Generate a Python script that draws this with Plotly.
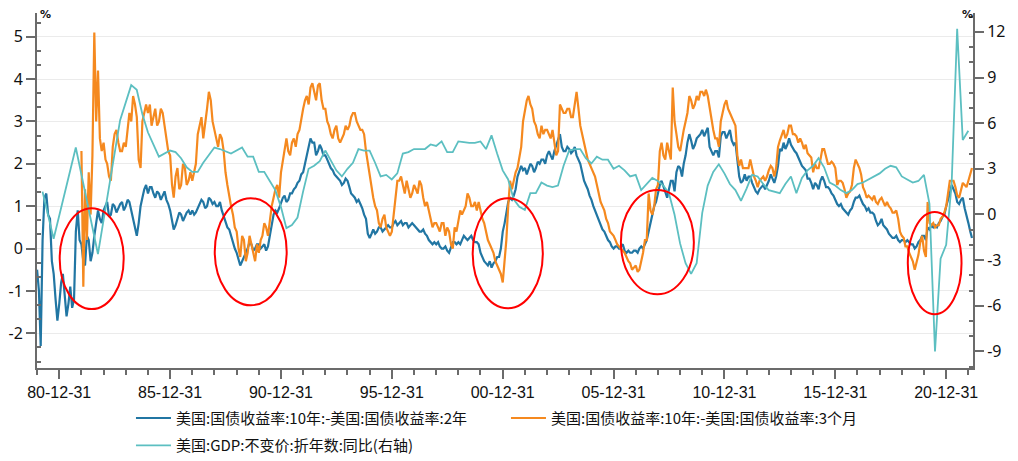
import plotly.graph_objects as go
import pandas as pd

# ---------------- data ----------------
# 10Y-2Y spread, monthly 1980-01 .. 2022-03, stored as odd months (Jan,Mar,...) and even months (Feb,Apr,...)
blue_start, blue_end = "1980-01-01", "2022-03-01"
blue_odd = [
    -0.5, -2.3, 1.2, 0.8, -0.3, -1.2,      # 1980
    -1.3, -0.6, -1.6, -0.9, -1.2, 0.9,     # 1981
    0.1, -0.4, 0.2, -0.1, 0.6, 0.7,        # 1982
    0.9, 1.1, 0.8, 1.0, 0.95, 1.1,         # 1983
    1.0, 1.1, 0.7, 0.3, 1.0, 1.4,          # 1984
    1.3, 1.45, 1.2, 1.3, 1.25, 1.15,       # 1985
    0.9, 0.45, 0.7, 0.8, 0.75, 0.9,        # 1986
    0.9, 0.85, 1.05, 1.1, 1.0, 1.15,       # 1987
    1.1, 1.0, 0.9, 0.6, 0.45, 0.1,         # 1988
    -0.1, -0.4, -0.2, 0.0, 0.1, 0.0,       # 1989
    0.1, 0.05, -0.05, 0.3, 0.8, 0.85,      # 1990
    1.1, 1.25, 1.15, 1.3, 1.45, 1.6,       # 1991
    1.8, 2.2, 2.6, 2.5, 2.3, 2.35,         # 1992
    2.2, 2.0, 1.85, 1.7, 1.6, 1.55,        # 1993
    1.6, 1.3, 1.2, 1.15, 0.95, 0.7,        # 1994
    0.25, 0.45, 0.4, 0.5, 0.45, 0.55,      # 1995
    0.5, 0.65, 0.6, 0.55, 0.6, 0.55,       # 1996
    0.55, 0.45, 0.4, 0.35, 0.2, 0.1,       # 1997
    0.1, 0.05, 0.0, -0.05, 0.05, 0.15,     # 1998
    0.15, 0.2, 0.25, 0.25, 0.2, 0.15,      # 1999
    -0.1, -0.3, -0.4, -0.45, -0.3, -0.2,   # 2000
    0.4, 0.8, 1.2, 1.25, 1.7, 1.95,        # 2001
    1.9, 1.85, 1.95, 1.9, 2.0, 2.1,        # 2002
    2.2, 2.2, 2.3, 2.6, 2.4, 2.3,          # 2003
    2.35, 2.3, 2.2, 2.0, 1.6, 1.4,         # 2004
    1.15, 0.9, 0.7, 0.45, 0.3, 0.15,       # 2005
    0.0, 0.05, 0.05, -0.05, -0.05, -0.1,   # 2006
    -0.05, 0.0, 0.0, 0.2, 0.6, 1.0,        # 2007
    1.35, 1.6, 1.3, 1.4, 1.6, 1.8,         # 2008
    1.9, 2.0, 2.5, 2.55, 2.45, 2.65,       # 2009
    2.8, 2.75, 2.4, 2.2, 2.3, 2.65,        # 2010
    2.75, 2.7, 2.55, 2.5, 1.7, 1.6,        # 2011
    1.6, 1.7, 1.45, 1.3, 1.45, 1.4,        # 2012
    1.6, 1.65, 1.7, 2.35, 2.5, 2.45,       # 2013
    2.45, 2.3, 2.15, 1.95, 1.85, 1.65,     # 2014
    1.4, 1.5, 1.6, 1.6, 1.45, 1.3,         # 2015
    1.15, 1.0, 0.95, 0.85, 0.9, 1.1,       # 2016
    1.2, 1.15, 1.0, 0.95, 0.85, 0.65,      # 2017
    0.6, 0.55, 0.45, 0.3, 0.25, 0.2,       # 2018
    0.2, 0.15, 0.15, 0.1, 0.05, 0.2,       # 2019
    0.3, 0.5, 0.55, 0.55, 0.6, 0.75,       # 2020
    1.0, 1.3, 1.4, 1.1, 1.15, 0.95,        # 2021
    0.6, 0.25,                             # 2022 Jan, Mar
]
blue_even = [
    -1.0, 0.2, 1.3, 0.7, -0.6, -1.7,       # 1980
    -0.8, -1.2, -1.3, -1.4, 0.4, 0.2,      # 1981
    -0.3, 0.3, -0.3, 0.3, 0.9, 0.6,        # 1982
    1.0, 0.75, 1.05, 0.85, 1.05, 0.9,      # 1983
    1.15, 0.9, 0.45, 0.6, 1.2, 1.5,        # 1984
    1.45, 1.3, 1.35, 1.15, 1.35, 1.05,     # 1985
    0.7, 0.55, 0.85, 0.65, 0.85, 0.8,      # 1986
    0.8, 0.95, 1.15, 0.95, 1.2, 1.05,      # 1987
    1.0, 1.1, 0.75, 0.5, 0.3, 0.0,         # 1988
    -0.3, -0.3, -0.1, 0.15, -0.05, 0.1,    # 1989
    0.0, 0.1, 0.05, 0.55, 0.9, 0.95,       # 1990
    1.2, 1.1, 1.3, 1.4, 1.55, 1.75,        # 1991
    2.0, 2.45, 2.5, 2.2, 2.45, 2.2,        # 1992
    2.1, 1.9, 1.75, 1.65, 1.5, 1.65,       # 1993
    1.45, 1.25, 1.1, 1.05, 0.8, 0.35,      # 1994
    0.35, 0.35, 0.5, 0.4, 0.5, 0.5,        # 1995
    0.6, 0.55, 0.65, 0.6, 0.5, 0.6,        # 1996
    0.5, 0.4, 0.45, 0.3, 0.15, 0.15,       # 1997
    0.15, 0.0, 0.05, -0.1, 0.15, 0.1,      # 1998
    0.1, 0.3, 0.2, 0.3, 0.15, 0.1,         # 1999
    -0.2, -0.35, -0.3, -0.35, -0.2, 0.0,   # 2000
    0.6, 1.1, 1.15, 1.4, 1.85, 1.85,       # 2001
    1.75, 2.0, 1.8, 2.05, 2.1, 2.0,        # 2002
    2.3, 2.1, 2.45, 2.7, 2.3, 2.4,         # 2003
    2.25, 2.4, 2.1, 1.8, 1.5, 1.25,        # 2004
    1.0, 0.8, 0.55, 0.4, 0.2, 0.05,        # 2005
    0.05, 0.0, 0.1, -0.1, -0.1, -0.05,     # 2006
    -0.1, 0.05, 0.1, 0.4, 0.8, 1.1,        # 2007
    1.5, 1.45, 1.2, 1.6, 1.35, 1.95,       # 2008
    1.7, 2.2, 2.7, 2.35, 2.6, 2.7,         # 2009
    2.65, 2.85, 2.3, 2.3, 2.15, 2.75,      # 2010
    2.6, 2.8, 2.45, 2.15, 1.55, 1.75,      # 2011
    1.7, 1.55, 1.35, 1.4, 1.5, 1.5,        # 2012
    1.75, 1.55, 1.95, 2.3, 2.35, 2.6,      # 2013
    2.35, 2.25, 2.05, 1.9, 1.65, 1.55,     # 2014
    1.55, 1.4, 1.7, 1.45, 1.4, 1.25,       # 2015
    1.05, 1.05, 0.9, 0.8, 0.95, 1.2,       # 2016
    1.25, 1.05, 0.9, 0.85, 0.8, 0.55,      # 2017
    0.7, 0.5, 0.35, 0.25, 0.3, 0.15,       # 2018
    0.2, 0.2, 0.1, 0.0, 0.15, 0.3,         # 2019
    0.2, 0.45, 0.5, 0.5, 0.65, 0.8,        # 2020
    1.15, 1.5, 1.3, 1.05, 1.2, 0.8,        # 2021
    0.4,                                   # 2022 Feb
]

# 10Y-3M spread, monthly 1982-01 .. 2022-03 (odd / even months)
orange_start, orange_end = "1982-01-01", "2022-03-01"
orange_odd = [
    2.3, 1.4, 1.8, 2.2, 3.0, 2.6,          # 1982
    2.5, 2.0, 1.6, 2.7, 2.5, 2.3,          # 1983
    2.4, 3.2, 3.6, 3.1, 1.9, 3.2,          # 1984
    3.2, 2.9, 3.3, 3.0, 3.2, 2.6,          # 1985
    2.2, 1.2, 1.9, 1.5, 1.9, 1.6,          # 1986
    1.6, 2.0, 2.9, 2.6, 3.3, 3.5,          # 1987
    2.8, 2.4, 2.6, 1.8, 1.2, 0.8,          # 1988
    0.4, -0.2, 0.2, -0.1, 0.1, -0.3,       # 1989
    -0.1, 0.3, 0.5, 0.7, 1.2, 1.5,         # 1990
    1.8, 2.4, 2.3, 2.5, 2.4, 2.8,          # 1991
    3.3, 3.6, 3.8, 3.7, 3.85, 3.5,         # 1992
    3.3, 2.9, 2.6, 2.9, 2.5, 2.7,          # 1993
    2.8, 3.1, 3.2, 2.9, 2.8, 2.3,          # 1994
    1.7, 1.2, 0.9, 0.5, 0.8, 0.4,          # 1995
    0.4, 1.2, 1.6, 1.5, 1.6, 1.2,          # 1996
    1.5, 1.3, 1.5, 1.0, 0.9, 0.5,          # 1997
    0.6, 0.4, 0.6, 0.5, 0.1, 0.5,          # 1998
    0.7, 0.8, 1.0, 1.2, 1.0, 0.9,          # 1999
    0.9, 0.6, 0.2, 0.0, -0.3, -0.5,        # 2000
    -0.8, 0.2, 1.6, 1.6, 1.9, 2.4,         # 2001
    3.3, 3.6, 3.3, 2.9, 2.6, 2.7,          # 2002
    2.8, 2.6, 2.5, 2.3, 3.3, 3.2,          # 2003
    3.3, 3.1, 3.7, 2.9, 2.5, 2.1,          # 2004
    1.9, 1.7, 1.3, 1.0, 0.7, 0.4,          # 2005
    0.3, 0.1, 0.0, -0.1, -0.3, -0.5,       # 2006
    -0.4, -0.5, -0.1, 0.2, 0.9, 1.0,       # 2007
    1.5, 2.5, 2.1, 2.3, 3.8, 2.7,          # 2008
    2.3, 2.8, 3.2, 3.5, 3.4, 3.5,          # 2009
    3.7, 3.75, 3.3, 2.8, 2.6, 3.0,         # 2010
    3.4, 3.3, 3.1, 2.9, 1.95, 1.9,         # 2011
    1.9, 2.1, 1.7, 1.45, 1.65, 1.6,        # 2012
    1.85, 1.9, 1.9, 2.55, 2.8, 2.7,        # 2013
    2.9, 2.7, 2.5, 2.5, 2.45, 2.2,         # 2014
    1.8, 1.9, 2.1, 2.35, 2.0, 2.05,        # 2015
    1.9, 1.6, 1.55, 1.2, 1.35, 1.9,        # 2016
    2.0, 1.75, 1.35, 1.25, 1.15, 1.1,      # 2017
    1.15, 1.1, 1.1, 0.95, 0.85, 0.7,       # 2018
    0.3, 0.05, -0.1, -0.3, -0.35, 0.15,    # 2019
    -0.05, 1.1, 0.55, 0.5, 0.55, 0.75,     # 2020
    1.0, 1.6, 1.6, 1.25, 1.4, 1.5,         # 2021
    1.6, 1.9,                              # 2022 Jan, Mar
]
orange_even = [
    -0.9, 0.2, 0.8, 5.1, 4.2, 2.3,         # 1982
    2.1, 1.7, 2.4, 2.8, 2.3, 2.5,          # 1983
    2.8, 3.0, 3.4, 2.1, 3.0, 3.4,          # 1984
    3.4, 3.1, 2.9, 3.3, 2.9, 2.3,          # 1985
    1.5, 1.7, 1.4, 2.0, 1.5, 1.8,          # 1986
    1.8, 2.7, 3.1, 2.9, 3.7, 3.0,          # 1987
    2.6, 2.7, 2.3, 1.5, 1.0, 0.5,          # 1988
    0.0, 0.3, -0.3, 0.3, -0.1, 0.1,        # 1989
    0.2, 0.6, 0.3, 1.0, 1.4, 1.2,          # 1990
    2.1, 2.6, 2.2, 2.6, 2.7, 3.1,          # 1991
    3.5, 3.4, 3.9, 3.5, 3.9, 3.3,          # 1992
    3.0, 2.7, 2.8, 2.6, 2.6, 2.9,          # 1993
    2.9, 3.2, 3.0, 2.8, 2.7, 2.0,          # 1994
    1.4, 1.0, 0.6, 0.7, 0.5, 0.3,          # 1995
    0.8, 1.6, 1.7, 1.3, 1.4, 1.3,          # 1996
    1.4, 1.6, 1.2, 1.1, 0.7, 0.6,          # 1997
    0.5, 0.6, 0.3, 0.4, 0.0, 0.4,          # 1998
    0.9, 0.9, 1.3, 1.0, 1.1, 1.1,          # 1999
    0.7, 0.4, 0.1, -0.1, -0.4, -0.6,       # 2000
    -0.3, 1.0, 1.4, 1.8, 2.2, 3.0,         # 2001
    3.5, 3.4, 3.0, 2.7, 2.9, 2.8,          # 2002
    2.7, 2.8, 2.2, 3.4, 3.2, 3.3,          # 2003
    3.1, 3.4, 3.3, 2.7, 2.3, 2.0,          # 2004
    1.8, 1.5, 1.1, 0.9, 0.6, 0.35,         # 2005
    0.2, 0.05, -0.05, -0.2, -0.35, -0.45,  # 2006
    -0.55, -0.3, 0.2, 1.3, 0.8, 1.4,       # 2007
    2.3, 2.2, 2.5, 2.1, 3.0, 2.4,          # 2008
    2.6, 3.0, 3.6, 3.3, 3.6, 3.7,          # 2009
    3.6, 3.6, 3.1, 2.6, 2.4, 3.2,          # 2010
    3.5, 3.2, 3.0, 2.2, 2.1, 1.9,          # 2011
    1.9, 1.9, 1.6, 1.6, 1.7, 1.7,          # 2012
    1.95, 1.7, 2.4, 2.7, 2.6, 2.9,         # 2013
    2.7, 2.65, 2.6, 2.35, 2.25, 2.15,      # 2014
    2.0, 1.9, 2.35, 2.2, 2.0, 2.0,         # 2015
    1.5, 1.6, 1.4, 1.3, 1.5, 2.1,          # 2016
    1.9, 1.45, 1.2, 1.2, 1.25, 1.05,       # 2017
    1.2, 1.0, 1.0, 0.85, 0.9, 0.4,         # 2018
    0.25, 0.05, -0.2, -0.5, -0.15, 0.3,    # 2019
    -0.2, 0.6, 0.6, 0.55, 0.7, 0.85,       # 2020
    1.3, 1.6, 1.45, 1.2, 1.55, 1.45,       # 2021
    1.8,                                   # 2022 Feb
]

# US real GDP y/y (right axis), quarter ends
gdp_dates = [
    "1980-03-31", "1980-09-30", "1981-09-30", "1982-09-30", "1983-03-31", "1983-09-30",
    "1984-03-31", "1984-06-30", "1984-09-30", "1984-12-31", "1985-06-30", "1985-12-31",
    "1986-03-31", "1986-06-30", "1986-09-30", "1986-12-31", "1987-03-31", "1987-06-30",
    "1987-12-31", "1988-03-31", "1988-09-30", "1988-12-31", "1989-03-31", "1989-06-30",
    "1989-09-30", "1989-12-31", "1990-03-31", "1990-06-30", "1990-09-30", "1990-12-31",
    "1991-03-31", "1991-06-30", "1991-09-30", "1991-12-31", "1992-03-31", "1992-06-30",
    "1992-09-30", "1992-12-31", "1993-03-31", "1993-06-30", "1993-09-30", "1993-12-31",
    "1994-03-31", "1994-06-30", "1994-09-30", "1994-12-31", "1995-03-31", "1995-06-30",
    "1995-09-30", "1995-12-31", "1996-03-31", "1996-06-30", "1996-09-30", "1996-12-31",
    "1997-03-31", "1997-06-30", "1997-09-30", "1997-12-31", "1998-03-31", "1998-06-30",
    "1998-09-30", "1998-12-31", "1999-03-31", "1999-06-30", "1999-09-30", "1999-12-31",
    "2000-03-31", "2000-06-30", "2000-09-30", "2000-12-31", "2001-03-31", "2001-06-30",
    "2001-09-30", "2001-12-31", "2002-03-31", "2002-06-30", "2002-09-30", "2002-12-31",
    "2003-03-31", "2003-06-30", "2003-09-30", "2003-12-31", "2004-03-31", "2004-06-30",
    "2004-09-30", "2004-12-31", "2005-03-31", "2005-06-30", "2005-09-30", "2005-12-31",
    "2006-03-31", "2006-06-30", "2006-09-30", "2006-12-31", "2007-03-31", "2007-06-30",
    "2007-09-30", "2007-12-31", "2008-03-31", "2008-06-30", "2008-09-30", "2008-12-31",
    "2009-03-31", "2009-06-30", "2009-09-30", "2009-12-31", "2010-03-31", "2010-06-30",
    "2010-09-30", "2010-12-31", "2011-03-31", "2011-06-30", "2011-09-30", "2011-12-31",
    "2012-03-31", "2012-06-30", "2012-09-30", "2012-12-31", "2013-03-31", "2013-06-30",
    "2013-09-30", "2013-12-31", "2014-03-31", "2014-06-30", "2014-09-30", "2014-12-31",
    "2015-03-31", "2015-06-30", "2015-09-30", "2015-12-31", "2016-03-31", "2016-06-30",
    "2016-09-30", "2016-12-31", "2017-03-31", "2017-06-30", "2017-09-30", "2017-12-31",
    "2018-03-31", "2018-06-30", "2018-09-30", "2018-12-31", "2019-03-31", "2019-06-30",
    "2019-09-30", "2019-12-31", "2020-03-31", "2020-06-30", "2020-09-30", "2020-12-31",
    "2021-03-31", "2021-06-30", "2021-09-30", "2021-12-31",
]
gdp_vals = [
    1.5, -1.6, 4.4, -2.6, 1.8, 6.2,
    8.5, 8.2, 6.6, 5.4, 3.8, 4.2,
    4.1, 3.7, 3.1, 2.8, 2.8, 3.4,
    4.4, 4.3, 4.0, 4.2, 4.4, 3.8,
    3.8, 2.8, 2.8, 2.2, 1.6, 0.5,
    -0.9, -0.7, -0.2, 1.5, 3.0, 3.2,
    3.5, 4.2, 3.6, 2.9, 2.5, 3.0,
    3.4, 4.3, 4.2, 4.2, 3.4, 2.5,
    2.6, 2.3, 2.7, 4.0, 4.1, 4.3,
    4.3, 4.3, 4.6, 4.5, 4.8, 4.1,
    4.1, 4.8, 4.75, 4.7, 4.7, 4.8,
    4.3, 5.2, 4.0, 2.9, 2.3, 1.0,
    0.5, 0.3, 1.4, 1.4, 2.1, 1.9,
    1.8, 1.9, 3.2, 4.2, 4.3, 4.3,
    3.7, 3.35, 3.8, 3.6, 3.6, 3.0,
    3.2, 2.9, 2.5, 2.6, 1.6, 2.0,
    2.4, 2.2, 1.9, 1.4, 0.0, -1.9,
    -3.2, -3.9, -3.2, 0.1, 1.9, 2.8,
    3.3, 2.7, 2.0, 1.6, 0.9, 1.7,
    2.6, 2.5, 2.0, 1.6, 1.5, 1.4,
    2.0, 2.5, 1.4, 2.4, 2.9, 3.2,
    3.7, 3.1, 2.1, 1.9, 1.6, 1.4,
    1.6, 2.0, 2.1, 2.3, 2.5, 2.7,
    3.0, 3.2, 3.1, 2.5, 2.3, 2.1,
    2.2, 2.6, 0.7, -9.0, -2.9, -2.0,
    2.0, 12.2, 4.9, 5.5,
]

names = [
    "美国:国债收益率:10年:-美国:国债收益率:2年",
    "美国:国债收益率:10年:-美国:国债收益率:3个月",
    "美国:GDP:不变价:折年数:同比(右轴)",
]
colors = ["#2176a3", "#f5891f", "#5cbfc1"]

# axis ticks and labels
x_tick_vals = ["1980-12-31", "1985-12-31", "1990-12-31", "1995-12-31", "2000-12-31",
               "2005-12-31", "2010-12-31", "2015-12-31", "2020-12-31"]
x_tick_text = ["80-12-31", "85-12-31", "90-12-31", "95-12-31", "00-12-31",
               "05-12-31", "10-12-31", "15-12-31", "20-12-31"]
x_minor_vals = [f"{y}-12-31" for y in range(1979, 2022)]
left_tick_vals = [-2, -1, 0, 1, 2, 3, 4, 5]
left_tick_text = ["-2", "-1", "0", "1", "2", "3", "4", "5"]
right_tick_vals = [-9, -6, -3, 0, 3, 6, 9, 12]
right_tick_text = ["-9", "-6", "-3", "0", "3", "6", "9", "12"]

# red ellipses drawn on the chart (left-axis units)
circle_x0 = ["1981-01-08", "1988-01-06", "1999-08-25", "2006-05-01", "2019-04-09"]
circle_x1 = ["1983-11-28", "1991-04-05", "2002-10-23", "2009-08-15", "2021-09-10"]
circle_y0 = [-1.43, -1.34, -1.41, -1.08, -1.55]
circle_y1 = [0.95, 1.19, 1.19, 1.38, 0.86]

# ---------------- assemble ----------------
def interleave(odd, even):
    out = []
    for i, v in enumerate(odd):
        out.append(v)
        if i < len(even):
            out.append(even[i])
    return out

blue_dates = pd.date_range(blue_start, blue_end, freq="MS")
orange_dates = pd.date_range(orange_start, orange_end, freq="MS")
blue_vals = interleave(blue_odd, blue_even)
orange_vals = interleave(orange_odd, orange_even)
assert len(blue_vals) == len(blue_dates), (len(blue_vals), len(blue_dates))
assert len(orange_vals) == len(orange_dates), (len(orange_vals), len(orange_dates))
assert len(gdp_vals) == len(gdp_dates)

fig = go.Figure()
fig.add_trace(go.Scatter(x=blue_dates, y=blue_vals, mode="lines", name=names[0],
                         line=dict(color=colors[0], width=2.2), legend="legend"))
fig.add_trace(go.Scatter(x=orange_dates, y=orange_vals, mode="lines", name=names[1],
                         line=dict(color=colors[1], width=2.2), legend="legend"))
fig.add_trace(go.Scatter(x=gdp_dates, y=gdp_vals, mode="lines", name=names[2], yaxis="y2",
                         line=dict(color=colors[2], width=1.8), legend="legend2"))

for a, b, c, d in zip(circle_x0, circle_x1, circle_y0, circle_y1):
    fig.add_shape(type="circle", xref="x", yref="y", x0=a, x1=b, y0=c, y1=d,
                  line=dict(color="#ff0000", width=2), layer="above")

axis_col = "#6b6b6b"
tick_font = dict(family="Noto Sans, DejaVu Sans", size=16, color="#111111")
left_minor = [k / 3 for k in range(-8, 17) if k % 3 != 0]
right_minor = [v for v in range(-10, 14) if v % 3 != 0]
legend_font = dict(family="Noto Sans CJK SC", size=15, color="#111111")

# the page body adds an 8px offset, so the figure is drawn 8px smaller
fig.update_layout(
    width=1010, height=453,
    margin=dict(l=29, r=45, t=5, b=93, autoexpand=False),
    paper_bgcolor="white", plot_bgcolor="white",
    showlegend=True,
    legend=dict(orientation="h", x=0.1004, xanchor="left", y=-0.095, yanchor="top",
                font=legend_font, entrywidth=325, itemwidth=35,
                bgcolor="rgba(0,0,0,0)"),
    legend2=dict(orientation="h", x=0.1004, xanchor="left", y=-0.172, yanchor="top",
                 font=legend_font, itemwidth=35, bgcolor="rgba(0,0,0,0)"),
    xaxis=dict(
        type="date", range=["1979-12-31", "2022-03-18"], automargin=False,
        tickmode="array", tickvals=x_tick_vals, ticktext=x_tick_text,
        showline=True, linecolor=axis_col, linewidth=2,
        ticks="outside", ticklen=9, tickwidth=2, tickcolor=axis_col,
        showgrid=False, zeroline=False,
        tickfont=dict(family="Liberation Sans Narrow, Liberation Sans", size=16, color="#111111"),
        minor=dict(tickmode="array", tickvals=x_minor_vals, ticks="outside", ticklen=5,
                   tickwidth=2, tickcolor=axis_col, showgrid=False),
    ),
    yaxis=dict(
        range=[-2.82, 5.56], tickmode="array", tickvals=left_tick_vals, ticktext=left_tick_text,
        automargin=False,
        showline=True, linecolor=axis_col, linewidth=2,
        ticks="outside", ticklen=9, tickwidth=2, tickcolor=axis_col,
        showgrid=True, gridcolor="#ebebeb", gridwidth=1, zeroline=False,
        tickfont=tick_font,
        minor=dict(tickmode="array", tickvals=left_minor, ticks="inside", ticklen=4,
                   tickwidth=2, tickcolor=axis_col, showgrid=False),
    ),
    yaxis2=dict(
        overlaying="y", side="right", automargin=False,
        range=[-10.09, 13.24], tickmode="array", tickvals=right_tick_vals, ticktext=right_tick_text,
        showline=True, linecolor=axis_col, linewidth=2,
        ticks="outside", ticklen=9, tickwidth=2, tickcolor=axis_col,
        showgrid=False, zeroline=False,
        tickfont=tick_font,
        minor=dict(tickmode="array", tickvals=right_minor, ticks="inside", ticklen=4,
                   tickwidth=2, tickcolor=axis_col, showgrid=False),
    ),
    annotations=[
        dict(text="<b>%</b>", xref="paper", yref="paper", x=0.0096, y=0.997,
             xanchor="center", yanchor="middle", showarrow=False,
             font=dict(family="DejaVu Sans", size=11, color="#111111")),
        dict(text="<b>%</b>", xref="paper", yref="paper", x=0.9936, y=0.997,
             xanchor="center", yanchor="middle", showarrow=False,
             font=dict(family="DejaVu Sans", size=11, color="#111111")),
    ],
)

fig.write_html("out.html")
